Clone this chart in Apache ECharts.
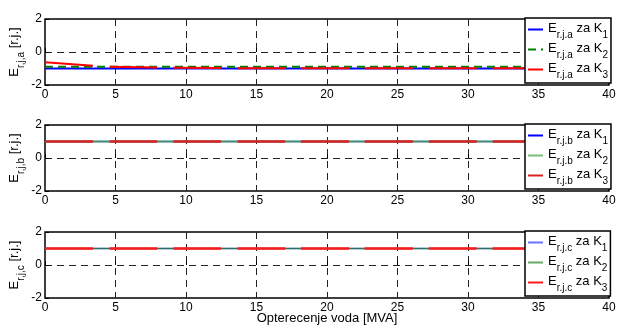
<!DOCTYPE html>
<html>
<head>
<meta charset="utf-8">
<script src="https://cdn.jsdelivr.net/npm/echarts@6/dist/echarts.min.js"></script>
<style>html,body{margin:0;padding:0;background:#fff;}#c{width:617px;height:325px;}</style>
</head>
<body>
<div id="c"></div>
<script>
// x ticks and y ticks
const xTicks = [0, 5, 10, 15, 20, 25, 30, 35, 40];
const yTicks = [-2, 0, 2];
const phases = ['a', 'b', 'c'];
const xName = 'Opterecenje voda [MVA]';

// Panel a: E_r.j.a
const a_K1 = [[0, -1.0], [40, -1.0]];
const a_K2 = [[0, -0.9], [40, -0.9]];
const a_K3 = [[0, -0.62], [3.40, -0.83], [4.0, null], [4.58, -0.89], [7.95, -0.94], [8.5, null],
  [9.11, -0.96], [12.48, -0.97], [13.0, null], [13.66, -0.98], [17.03, -0.98], [17.6, null],
  [18.15, -0.98], [21.56, -0.98], [22.1, null], [22.67, -0.98], [26.09, -0.98], [26.6, null],
  [27.22, -0.98], [30.62, -0.98], [31.2, null], [31.75, -0.98], [35.16, -0.98], [35.7, null],
  [36.30, -0.98], [39.70, -0.98]];

// Panel b: E_r.j.b
const b_K1 = [[0, 1.0], [40, 1.0]];
const b_K2 = [[0, 1.0], [40, 1.0]];
const b_K3 = [[0, 1.0], [3.40, 1.0], [4.0, null], [4.58, 1.0], [7.95, 1.0], [8.5, null],
  [9.11, 1.0], [12.48, 1.0], [13.0, null], [13.66, 1.0], [17.03, 1.0], [17.6, null],
  [18.15, 1.0], [21.56, 1.0], [22.1, null], [22.67, 1.0], [26.09, 1.0], [26.6, null],
  [27.22, 1.0], [30.62, 1.0], [31.2, null], [31.75, 1.0], [35.16, 1.0], [35.7, null],
  [36.30, 1.0], [39.70, 1.0]];

// Panel c: E_r.j.c
const c_K1 = [[0, 1.0], [40, 1.0]];
const c_K2 = [[0, 1.0], [40, 1.0]];
const c_K3 = [[0, 1.0], [3.40, 1.0], [4.0, null], [4.58, 1.0], [7.95, 1.0], [8.5, null],
  [9.11, 1.0], [12.48, 1.0], [13.0, null], [13.66, 1.0], [17.03, 1.0], [17.6, null],
  [18.15, 1.0], [21.56, 1.0], [22.1, null], [22.67, 1.0], [26.09, 1.0], [26.6, null],
  [27.22, 1.0], [30.62, 1.0], [31.2, null], [31.75, 1.0], [35.16, 1.0], [35.7, null],
  [36.30, 1.0], [39.70, 1.0]];

const panelData = [[a_K1, a_K2, a_K3], [b_K1, b_K2, b_K3], [c_K1, c_K2, c_K3]];

const FONT = '"Liberation Sans", Arial, sans-serif';
const tops = [19, 125, 232];
const H = 66;

const styles = [
  [{c: '#0000ff', w: 2, t: 'solid', o: 1}, {c: '#008000', w: 2, t: [8, 5], o: 1}, {c: '#ff0000', w: 2, t: 'solid', o: 1}],
  [{c: '#0000ff', w: 1.5, t: 'solid', o: 1}, {c: '#55b055', w: 2, t: 'solid', o: 0.8}, {c: '#d82020', w: 2.5, t: 'solid', o: 1}],
  [{c: '#6f6fff', w: 1.5, t: 'solid', o: 1}, {c: '#007000', w: 1.5, t: 'solid', o: 0.6}, {c: '#ff1a1a', w: 2.5, t: 'solid', o: 1}]
];

const rich = {
  e: {fontSize: 13, fontFamily: FONT, color: '#000', lineHeight: 15, verticalAlign: 'top'},
  s: {fontSize: 10, fontFamily: FONT, color: '#000', lineHeight: 10, padding: [8, 0, 0, 0], verticalAlign: 'top'}
};

const grid = [], xAxis = [], yAxis = [], series = [], legend = [];
phases.forEach((p, i) => {
  grid.push({left: 45, right: 8, top: tops[i], height: H, show: true, borderColor: '#000', borderWidth: 1.5,
    backgroundColor: 'transparent', containLabel: false, outerBoundsMode: 'none'});
  xAxis.push({
    type: 'value', gridIndex: i, min: xTicks[0], max: xTicks[xTicks.length - 1], interval: 5,
    axisLine: {show: false},
    axisTick: {show: true, inside: true, length: 4, lineStyle: {color: '#000'}},
    axisLabel: {color: '#000', fontSize: 12, fontFamily: FONT, margin: 4},
    splitLine: {show: true, showMinLine: false, showMaxLine: false, lineStyle: {color: '#222', width: 1, type: [7, 5]}},
    name: i === 2 ? xName : '', nameLocation: 'middle', nameGap: 14, nameMoveOverlap: false,
    nameTextStyle: {color: '#000', fontSize: 13, fontFamily: FONT}
  });
  yAxis.push({
    type: 'value', gridIndex: i, min: yTicks[0], max: yTicks[yTicks.length - 1], interval: 2,
    axisLine: {show: false},
    axisTick: {show: true, inside: true, length: 4, lineStyle: {color: '#000'}},
    axisLabel: {color: '#000', fontSize: 12, fontFamily: FONT, margin: 3},
    splitLine: {show: true, showMinLine: false, showMaxLine: false, lineStyle: {color: '#222', width: 1, type: [7, 5]}},
    name: '{e|E}{s|r,j,' + p + '}{e| [r.j.]}', nameLocation: 'middle', nameGap: 22, nameRotate: 90,
    nameMoveOverlap: false,
    nameTextStyle: {rich: rich}
  });
  const names = [];
  panelData[i].forEach((d, k) => {
    const st = styles[i][k];
    const nm = p + (k + 1);
    names.push(nm);
    series.push({
      name: nm, type: 'line', xAxisIndex: i, yAxisIndex: i, data: d,
      symbol: 'none', connectNulls: false, animation: false,
      lineStyle: {color: st.c, width: st.w, type: st.t, opacity: st.o},
      itemStyle: {color: st.c}, z: 2
    });
  });
  legend.push({
    data: names, orient: 'vertical', left: 525, top: tops[i] - 1, z: 10,
    backgroundColor: '#fff', borderColor: '#000', borderWidth: 1.5,
    padding: [4, 3, 3, 2], itemGap: 2, itemWidth: 15, itemHeight: 10,
    selectedMode: false,
    itemStyle: {opacity: 0},
    formatter: n => '{e|E}{s|r.j.' + n[0] + '}{e| za K}{s|' + n[1] + '}',
    textStyle: {rich: rich}
  });
});

const chart = echarts.init(document.getElementById('c'), null, {renderer: 'canvas'});
chart.setOption({animation: false, backgroundColor: '#fff', grid, xAxis, yAxis, series, legend});
</script>
</body>
</html>
